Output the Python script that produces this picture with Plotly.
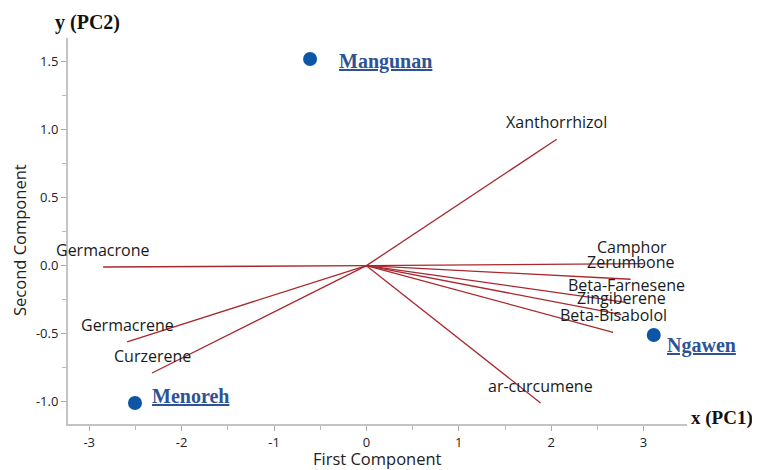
import plotly.graph_objects as go

# ---- data ----
variables = ["Xanthorrhizol", "Germacrone", "Camphor", "Zerumbone", "Beta-Farnesene",
             "Zingiberene", "Beta-Bisabolol", "Germacrene", "Curzerene", "ar-curcumene"]
load_pc1 = [2.06, -2.85, 3.00, 2.86, 2.81, 2.76, 2.67, -2.59, -2.32, 1.885]
load_pc2 = [0.93, -0.01, 0.015, -0.10, -0.27, -0.36, -0.49, -0.56, -0.79, -1.01]

sites = ["Mangunan", "Menoreh", "Ngawen"]
score_pc1 = [-0.61, -2.505, 3.11]
score_pc2 = [1.52, -1.01, -0.51]

x_ticks = [-3, -2, -1, 0, 1, 2, 3]
y_ticks = [-1.0, -0.5, 0.0, 0.5, 1.0, 1.5]

# ---- style ----
LINE_COLOR = "#A8282E"
DOT_COLOR = "#0D56A6"
LABEL_COLOR = "#2E5395"
SANS = "Open Sans, Noto Sans, sans-serif"
SERIF = "Liberation Serif, Times New Roman, serif"
var_label_xshift = {"Camphor": -12}
site_shift = {"Mangunan": (27, -2), "Menoreh": (15, 7), "Ngawen": (11, -11)}

fig = go.Figure()

lx, ly = [], []
for a, b in zip(load_pc1, load_pc2):
    lx += [0, a, None]
    ly += [0, b, None]
fig.add_trace(go.Scatter(x=lx, y=ly, mode="lines",
                         line=dict(color=LINE_COLOR, width=1.3),
                         hoverinfo="skip", showlegend=False))

fig.add_trace(go.Scatter(x=score_pc1, y=score_pc2, mode="markers",
                         marker=dict(color=DOT_COLOR, size=14),
                         text=sites, showlegend=False))

annotations = []
for name, a, b in zip(variables, load_pc1, load_pc2):
    annotations.append(dict(x=a, y=b, text=name, showarrow=False,
                            xanchor="center", yanchor="middle",
                            yshift=17, xshift=var_label_xshift.get(name, 0),
                            font=dict(family=SANS, size=16, color="#1a1a1a")))
for name, a, b in zip(sites, score_pc1, score_pc2):
    dx, dy = site_shift[name]
    annotations.append(dict(x=a, y=b, text="<b><u>" + name + "</u></b>", showarrow=False,
                            xanchor="left", yanchor="middle", xshift=dx, yshift=dy,
                            font=dict(family=SERIF, size=20, color=LABEL_COLOR)))

# axis names
annotations += [
    dict(xref="paper", yref="paper", x=0, y=1, xshift=19, yshift=16,
         text="<b>y (PC2)</b>", showarrow=False, xanchor="center", yanchor="middle",
         font=dict(family=SERIF, size=20, color="#111")),
    dict(xref="paper", yref="paper", x=1, y=0, xshift=3, yshift=6,
         text="<b>x (PC1)</b>", showarrow=False, xanchor="left", yanchor="middle",
         borderpad=0, font=dict(family=SERIF, size=19, color="#111")),
    dict(xref="paper", yref="paper", x=0.5008, y=0, yshift=-34,
         text="First Component", showarrow=False, xanchor="center", yanchor="middle",
         borderpad=0, font=dict(family=SANS, size=16.5, color="#222")),
    dict(xref="paper", yref="paper", x=0, y=0.4767, xshift=-48, textangle=-90,
         text="Second Component", showarrow=False, xanchor="center", yanchor="middle",
         borderpad=0, font=dict(family=SANS, size=16.5, color="#222")),
]

fig.update_layout(
    width=752, height=462,
    margin=dict(l=60, r=73, t=30, b=46, autoexpand=False),
    paper_bgcolor="white", plot_bgcolor="white",
    annotations=annotations,
    xaxis=dict(range=[-3.23, 3.47], tickvals=x_ticks, ticktext=[str(v) for v in x_ticks],
               automargin=False,
               showgrid=False, zeroline=False, showline=True, linecolor="#c4c4c4", linewidth=2,
               ticks="outside", ticklen=5, tickcolor="#aaaaaa", tickwidth=1,
               minor=dict(dtick=0.5, ticks="outside", ticklen=4, tickcolor="#bbbbbb", showgrid=False),
               tickfont=dict(family=SANS, size=13, color="#222")),
    yaxis=dict(range=[-1.165, 1.675], tickvals=y_ticks, ticktext=["%.1f" % v for v in y_ticks],
               automargin=False,
               showgrid=False, zeroline=False, showline=True, linecolor="#c4c4c4", linewidth=2,
               ticks="outside", ticklen=5, tickcolor="#aaaaaa", tickwidth=1,
               minor=dict(dtick=0.25, ticks="outside", ticklen=4, tickcolor="#bbbbbb", showgrid=False),
               tickfont=dict(family=SANS, size=13, color="#222")),
)

fig.write_html("out.html")
